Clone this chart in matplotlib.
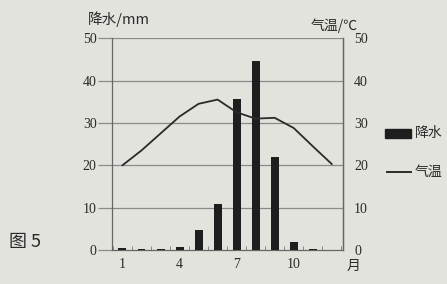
import numpy as np
import matplotlib.pyplot as plt

plt.rcParams['font.family'] = ['Liberation Serif', 'Noto Sans CJK SC']

months = np.arange(1, 13)
rain = [0.5, 0.2, 0.2, 0.6, 4.8, 10.8, 35.7, 44.5, 22.0, 2.0, 0.2, 0.1]
temp = [20.0, 23.5, 27.5, 31.5, 34.5, 35.5, 32.5, 31.0, 31.2, 28.8, 24.5, 20.3]
tick_months = [1, 4, 7, 10]

bg = '#e3e3de'
ink = '#2a2a2a'

fig = plt.figure(figsize=(4.47, 2.84), dpi=100, facecolor=bg)
ax = fig.add_axes([0.2506, 0.1197, 0.517, 0.746], facecolor=bg)

for v in range(10, 51, 10):
    ax.axhline(v, color='#8a8a88', lw=0.9, zorder=0)

ax.bar(months, rain, width=0.42, color='#1e1e1e', zorder=3)
ax.plot(months, temp, color=ink, lw=1.3, zorder=4)

ax.set_xlim(0.45, 12.6)
ax.set_ylim(0, 50)
ax.set_yticks(range(0, 51, 10))
ax.set_xticks(tick_months)
ax.set_xticks(np.arange(0.5, 12.6, 1), minor=True)
ax.tick_params(axis='x', which='major', length=0, labelsize=10, pad=6, colors=ink)
ax.tick_params(axis='x', which='minor', length=3, direction='in', color='#777777')
ax.tick_params(axis='y', length=10, width=0.9, color='#8a8a88', labelsize=10, pad=1, colors=ink)
ax.spines['top'].set_visible(False)
for s in ['left', 'right', 'bottom']:
    ax.spines[s].set_color('#666666')
    ax.spines[s].set_linewidth(0.9)

ax2 = ax.twinx()
ax2.set_ylim(0, 50)
ax2.set_yticks(range(0, 51, 10))
ax2.tick_params(axis='y', length=0, labelsize=10, pad=8, colors=ink)
for s in ['top', 'left', 'bottom']:
    ax2.spines[s].set_visible(False)
ax2.spines['right'].set_color('#666666')
ax2.spines['right'].set_linewidth(0.9)

cjk = ['Noto Sans CJK SC', 'DejaVu Sans']
fig.text(0.196, 0.905, '降水/mm', fontsize=10.5, color=ink, va='bottom', family=cjk)
fig.text(0.695, 0.885, '气温/℃', fontsize=10, color=ink, va='bottom', family=cjk)
fig.text(0.776, 0.05, '月', fontsize=10, color=ink, family=cjk)
fig.text(0.02, 0.13, '图 5', fontsize=13, color=ink, family=cjk)

# legend
fig.patches.append(plt.Rectangle((0.862, 0.515), 0.058, 0.032, transform=fig.transFigure,
                                 color='#1e1e1e'))
fig.text(0.928, 0.53, '降水', fontsize=10, color=ink, va='center', family=cjk)
fig.lines.append(plt.Line2D([0.865, 0.92], [0.395, 0.395], transform=fig.transFigure,
                            color=ink, lw=1.4))
fig.text(0.928, 0.395, '气温', fontsize=10, color=ink, va='center', family=cjk)

fig.savefig('out.png', dpi=100, facecolor=bg)
